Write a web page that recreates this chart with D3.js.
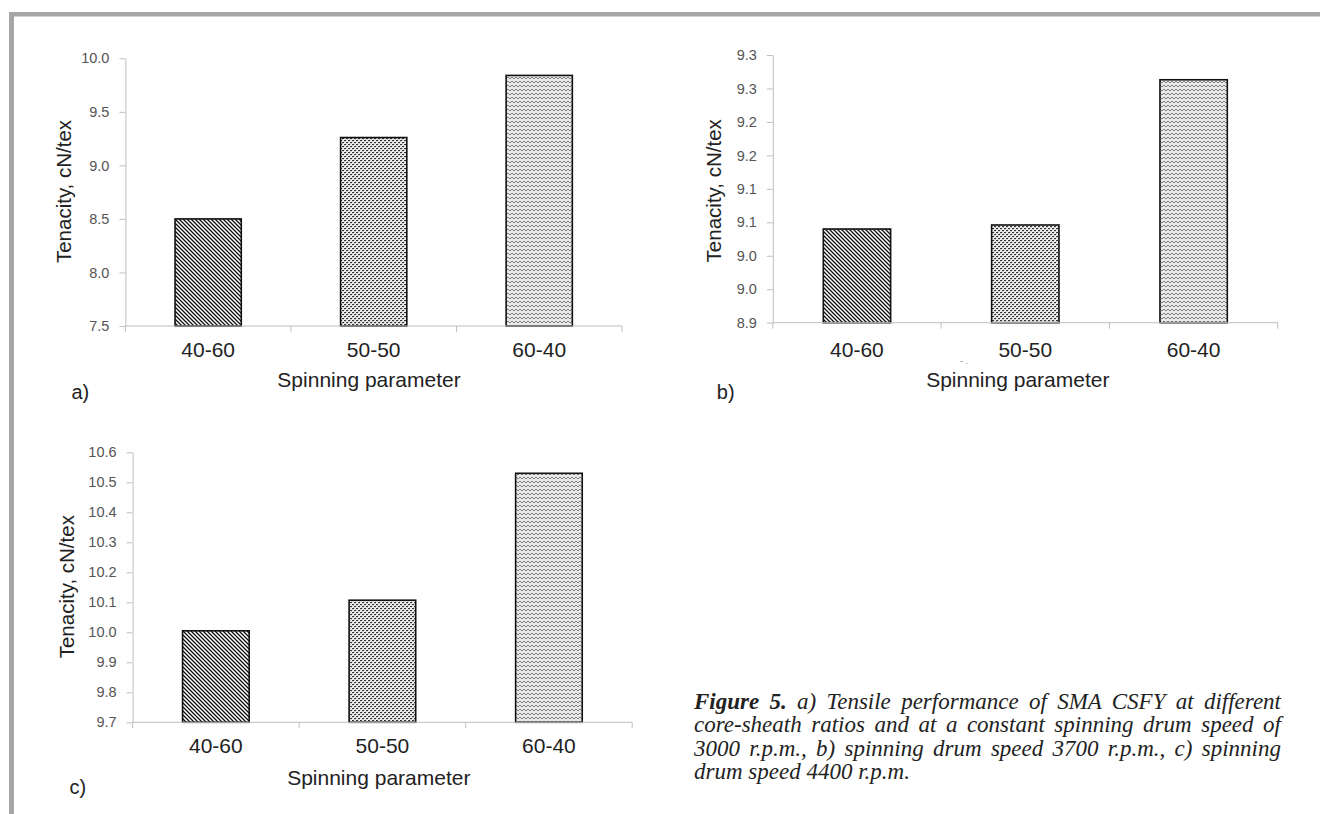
<!DOCTYPE html>
<html>
<head>
<meta charset="utf-8">
<script src="https://cdn.jsdelivr.net/npm/d3@7"></script>
<style>
  body { margin: 0; background: #fff; }
  svg { display: block; }
</style>
</head>
<body>
<div id="chart"></div>
<script>
// tenacity of SMA CSFY vs core-sheath ratio, three drum speeds

var categories = ['40-60', '50-50', '60-40'];

var valuesA = [8.50, 9.26, 9.84];      // 3000 r.p.m.
var valuesB = [9.040, 9.046, 9.263];   // 3700 r.p.m.
var valuesC = [10.005, 10.107, 10.53]; // 4400 r.p.m.

var ticksA = [7.5, 8.0, 8.5, 9.0, 9.5, 10.0];
var tickLabelsA = ['7.5', '8.0', '8.5', '9.0', '9.5', '10.0'];

var ticksB = [8.90, 8.95, 9.00, 9.05, 9.10, 9.15, 9.20, 9.25, 9.30];
var tickLabelsB = ['8.9', '9.0', '9.0', '9.1', '9.1', '9.2', '9.2', '9.3', '9.3'];

var ticksC = [9.7, 9.8, 9.9, 10.0, 10.1, 10.2, 10.3, 10.4, 10.5, 10.6];
var tickLabelsC = ['9.7', '9.8', '9.9', '10.0', '10.1', '10.2', '10.3', '10.4', '10.5', '10.6'];

var yTitle = 'Tenacity, cN/tex';
var xTitle = 'Spinning parameter';

var captionLines = [
  [['Figure 5.', true], [' a) Tensile performance of SMA CSFY at different', false]],
  [['core-sheath ratios and at a constant spinning drum speed of', false]],
  [['3000 r.p.m., b) spinning drum speed 3700 r.p.m., c) spinning', false]],
  [['drum speed 4400 r.p.m.', false]]
];

var W = 1320, H = 814;
var sans = '"Liberation Sans", Arial, sans-serif';
var serif = '"Liberation Serif", "Times New Roman", serif';

var svg = d3.select('#chart').append('svg')
  .attr('width', W)
  .attr('height', H);

// fill patterns for the three bars
var defs = svg.append('defs');

var p1 = defs.append('pattern')
  .attr('id', 'pat0')
  .attr('patternUnits', 'userSpaceOnUse')
  .attr('width', 4).attr('height', 4);
p1.append('rect').attr('width', 4).attr('height', 4).attr('fill', '#fff');
p1.append('path')
  .attr('d', 'M0,0L4,4M-1,3L1,5M3,-1L5,1')
  .attr('stroke', '#111')
  .attr('stroke-width', 1.3);

// speckled texture for the middle bar
var p2 = defs.append('pattern')
  .attr('id', 'pat1')
  .attr('patternUnits', 'userSpaceOnUse')
  .attr('width', 4).attr('height', 4);
p2.append('rect').attr('width', 4).attr('height', 4).attr('fill', '#d4d4d4');
p2.append('rect').attr('x', 0).attr('y', 0).attr('width', 2).attr('height', 1).attr('fill', '#333');
p2.append('rect').attr('x', 2).attr('y', 2).attr('width', 2).attr('height', 1).attr('fill', '#333');
p2.append('rect').attr('x', 3).attr('y', 0).attr('width', 1).attr('height', 1).attr('fill', '#fff');
p2.append('rect').attr('x', 1).attr('y', 2).attr('width', 1).attr('height', 1).attr('fill', '#fff');
p2.append('rect').attr('x', 0).attr('y', 3).attr('width', 1).attr('height', 1).attr('fill', '#fff');
p2.append('rect').attr('x', 2).attr('y', 1).attr('width', 1).attr('height', 1).attr('fill', '#fff');

var p3 = defs.append('pattern')
  .attr('id', 'pat2')
  .attr('patternUnits', 'userSpaceOnUse')
  .attr('width', 4).attr('height', 4);
p3.append('rect').attr('width', 4).attr('height', 4).attr('fill', '#e8e8e8');
p3.append('path')
  .attr('d', 'M0,1L2,3L4,1')
  .attr('fill', 'none')
  .attr('stroke', '#808080')
  .attr('stroke-width', 1);

// page frame (gray rule on top and left)
svg.append('rect')
  .attr('x', 9).attr('y', 12)
  .attr('width', W - 9).attr('height', 4.5)
  .attr('fill', '#a6a6a6');
svg.append('rect')
  .attr('x', 9).attr('y', 12)
  .attr('width', 5).attr('height', H - 12)
  .attr('fill', '#a6a6a6');

var panels = [
  { values: valuesA, ticks: ticksA, labels: tickLabelsA, tag: 'a)',
    left: 125.4, right: 622, top: 58.3, bottom: 326,
    xLab: 356.7, xTitleX: 369, xTitleY: 386.7, tagX: 71.5, tagY: 399, yTitleX: 71, yTitleY: 191.5 },
  { values: valuesB, ticks: ticksB, labels: tickLabelsB, tag: 'b)',
    left: 772.8, right: 1277.8, top: 55, bottom: 322.7,
    xLab: 356.7, xTitleX: 1017.8, xTitleY: 386.7, tagX: 716.8, tagY: 399, yTitleX: 721, yTitleY: 190.8 },
  { values: valuesC, ticks: ticksC, labels: tickLabelsC, tag: 'c)',
    left: 132.6, right: 632.2, top: 452.3, bottom: 722.3,
    xLab: 753.3, xTitleX: 378.8, xTitleY: 785, tagX: 69.4, tagY: 794, yTitleX: 73.7, yTitleY: 586.7 }
];

panels.forEach(function(p) {
  var x = d3.scaleBand()
    .domain(categories)
    .range([p.left, p.right])
    .paddingInner(0.6)
    .paddingOuter(0.3);

  var y = d3.scaleLinear()
    .domain([p.ticks[0], p.ticks[p.ticks.length - 1]])
    .range([p.bottom, p.top]);

  var g = svg.append('g');

  // y axis
  var yAxis = g.append('g')
    .attr('transform', 'translate(' + p.left + ',0)')
    .call(d3.axisLeft(y)
      .tickValues(p.ticks)
      .tickFormat(function(d, i) { return p.labels[i]; })
      .tickSize(6)
      .tickSizeOuter(0)
      .tickPadding(10));
  yAxis.select('.domain').attr('stroke', '#bfbfbf');
  yAxis.selectAll('.tick line').attr('stroke', '#bfbfbf');
  yAxis.selectAll('.tick text')
    .attr('fill', '#555')
    .style('font-family', sans)
    .style('font-size', '14.5px');

  // bars
  g.selectAll('rect.bar')
    .data(p.values)
    .enter()
    .append('rect')
      .attr('class', 'bar')
      .attr('x', function(d, i) { return x(categories[i]); })
      .attr('y', function(d) { return y(d); })
      .attr('width', x.bandwidth())
      .attr('height', function(d) { return p.bottom - y(d); })
      .attr('fill', function(d, i) { return 'url(#pat' + i + ')'; })
      .attr('stroke', '#111')
      .attr('stroke-width', 1.6);

  // x axis line with ticks at category borders
  var edges = categories.map(function(c) { return x(c) - x.step() * 0.3; });
  edges.push(p.right);
  g.append('line')
    .attr('x1', p.left).attr('x2', p.right)
    .attr('y1', p.bottom).attr('y2', p.bottom)
    .attr('stroke', '#bfbfbf');
  g.selectAll('line.xt')
    .data(edges)
    .enter()
    .append('line')
      .attr('class', 'xt')
      .attr('x1', function(d) { return d; })
      .attr('x2', function(d) { return d; })
      .attr('y1', p.bottom)
      .attr('y2', p.bottom + 6)
      .attr('stroke', '#bfbfbf');

  g.selectAll('text.xl')
    .data(categories)
    .enter()
    .append('text')
      .attr('class', 'xl')
      .attr('x', function(d) { return x(d) + x.bandwidth() / 2; })
      .attr('y', p.xLab)
      .attr('text-anchor', 'middle')
      .attr('fill', '#222')
      .style('font-family', sans)
      .style('font-size', '21px')
      .text(function(d) { return d; });

  g.append('text')
    .attr('x', p.xTitleX)
    .attr('y', p.xTitleY)
    .attr('text-anchor', 'middle')
    .attr('fill', '#222')
    .style('font-family', sans)
    .style('font-size', '21px')
    .text(xTitle);

  g.append('text')
    .attr('transform', 'translate(' + p.yTitleX + ',' + p.yTitleY + ') rotate(-90)')
    .attr('text-anchor', 'middle')
    .attr('fill', '#222')
    .style('font-family', sans)
    .style('font-size', '20.5px')
    .text(yTitle);

  g.append('text')
    .attr('x', p.tagX)
    .attr('y', p.tagY)
    .attr('fill', '#222')
    .style('font-family', sans)
    .style('font-size', '20px')
    .text(p.tag);
});

// stray mark below panel b
svg.append('text')
  .attr('x', 960).attr('y', 364)
  .attr('fill', '#888')
  .style('font-family', sans)
  .style('font-size', '9px')
  .text('-  .');

// caption, justified between left and right edge
var capLeft = 694, capRight = 1281, capTop = 709, capStep = 23.3;
captionLines.forEach(function(parts, li) {
  var t = svg.append('text')
    .attr('x', capLeft)
    .attr('y', capTop + li * capStep)
    .attr('fill', '#222')
    .style('font-family', serif)
    .style('font-style', 'italic')
    .style('font-size', '23px');
  parts.forEach(function(pt) {
    t.append('tspan')
      .style('font-weight', pt[1] ? 'bold' : 'normal')
      .text(pt[0]);
  });
  if (li < captionLines.length - 1) {
    var len = t.node().getComputedTextLength();
    var full = parts.map(function(pt) { return pt[0]; }).join('');
    var gaps = (full.match(/ /g) || []).length;
    if (gaps > 0) t.attr('word-spacing', (capRight - capLeft - len) / gaps);
  }
});
</script>
</body>
</html>
